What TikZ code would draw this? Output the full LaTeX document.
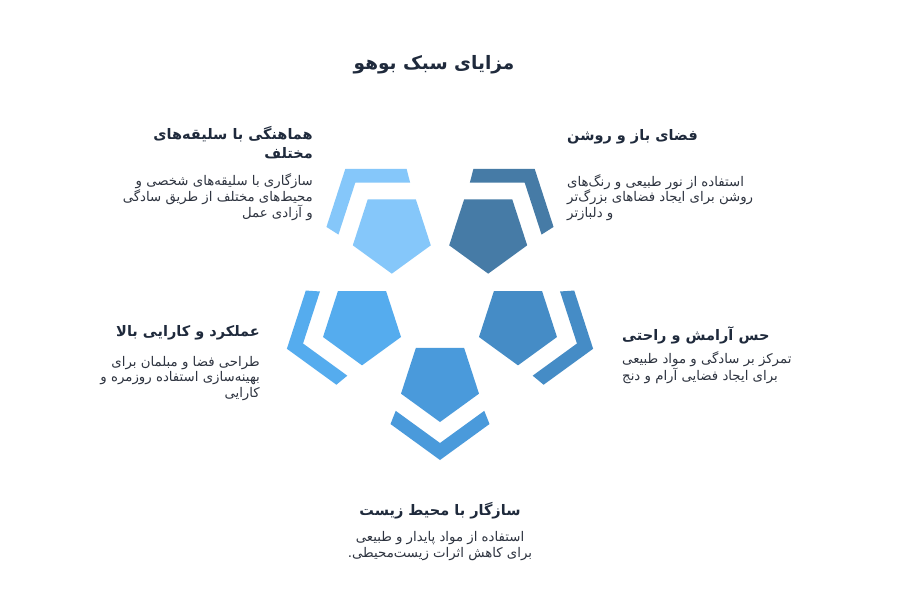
\documentclass[tikz,border=0pt]{standalone}
\usepackage{fontspec}
\newfontfamily\arabicfont[Script=Arabic]{DejaVu Sans}
\TeXXeTstate=1
\usetikzlibrary{calc}
\definecolor{cTL}{HTML}{85C7FA}
\definecolor{cTR}{HTML}{467BA6}
\definecolor{cML}{HTML}{55ACEE}
\definecolor{cMR}{HTML}{458CC6}
\definecolor{cB}{HTML}{4A9ADB}
\definecolor{headc}{HTML}{1F2A3C}
\definecolor{bodyc}{HTML}{2E3440}
\begin{document}
\begin{tikzpicture}[x=1pt,y=-1pt,
  titlestyle/.style={font=\arabicfont\bfseries\fontsize{18.5}{22}\selectfont, text=headc, inner sep=0pt},
  head/.style={font=\arabicfont\bfseries\fontsize{14.5}{19}\selectfont, text=headc, inner sep=0pt},
  body/.style={font=\arabicfont\fontsize{13.3}{15.5}\selectfont, text=bodyc, inner sep=0pt}]
\useasboundingbox (0,0) rectangle (900,600);
\fill[white] (0,0) rectangle (900,600);
\coordinate (O) at (440,299);
\foreach \nm/\ang/\col in {b/90/cB, ml/162/cML, tl/234/cTL, tr/306/cTR, mr/18/cMR} {
  \coordinate (c\nm) at ($(O)+(\ang:82)$);
  \fill[\col] ($(c\nm)+(90:41)$) -- ($(c\nm)+(162:41)$) -- ($(c\nm)+(234:41)$) -- ($(c\nm)+(306:41)$) -- ($(c\nm)+(18:41)$) -- cycle;
  \begin{scope}
    \clip ($(O)+(\ang-21.6:105)$) -- ($(O)+(\ang-21.6:260)$) -- ($(O)+(\ang+21.6:260)$) -- ($(O)+(\ang+21.6:105)$) -- cycle;
    \fill[\col, even odd rule]
      ($(c\nm)+(90:79)$) -- ($(c\nm)+(162:79)$) -- ($(c\nm)+(234:79)$) -- ($(c\nm)+(306:79)$) -- ($(c\nm)+(18:79)$) -- cycle
      ($(c\nm)+(90:62)$) -- ($(c\nm)+(162:62)$) -- ($(c\nm)+(234:62)$) -- ($(c\nm)+(306:62)$) -- ($(c\nm)+(18:62)$) -- cycle;
  \end{scope}
}
% title
\node[titlestyle] (title) at (434,65) {\beginR مزایای سبک بوهو\endR};
% top left
\node[head, anchor=east, align=right] (tlh) at (313,142.5) {\beginR هماهنگی با سلیقه‌های\endR\\\beginR مختلف\endR};
\node[body, anchor=east, align=right] (tlb) at (313,197.5) {\beginR سازگاری با سلیقه‌های شخصی و\endR\\\beginR محیط‌های مختلف از طریق سادگی\endR\\\beginR و آزادی عمل\endR};
% top right
\node[head, anchor=west, align=left] (trh) at (567,137) {\beginR فضای باز و روشن\endR};
\node[body, anchor=west, align=left] (trb) at (567,197.5) {\beginR استفاده از نور طبیعی و رنگ‌های\endR\\\beginR روشن برای ایجاد فضاهای بزرگ‌تر\endR\\\beginR و دلبازتر\endR};
% middle left
\node[head, anchor=east, align=right] (mlh) at (260,333) {\beginR عملکرد و کارایی بالا\endR};
\node[body, anchor=east, align=right] (mlb) at (260,378.5) {\beginR طراحی فضا و مبلمان برای\endR\\\beginR بهینه‌سازی استفاده روزمره و\endR\\\beginR کارایی\endR};
% middle right
\node[head, anchor=west, align=left] (mrh) at (622,335) {\beginR حس آرامش و راحتی\endR};
\node[body, anchor=west, align=left] (mrb) at (622,367.5) {\beginR تمرکز بر سادگی و مواد طبیعی\endR\\\beginR برای ایجاد فضایی آرام و دنج\endR};
% bottom
\node[head, align=center] (bh) at (440,511) {\beginR سازگار با محیط زیست\endR};
\node[body, align=center] (bb) at (440,546) {\beginR استفاده از مواد پایدار و طبیعی\endR\\\beginR برای کاهش اثرات زیست‌محیطی.\endR};
\end{tikzpicture}
\end{document}
